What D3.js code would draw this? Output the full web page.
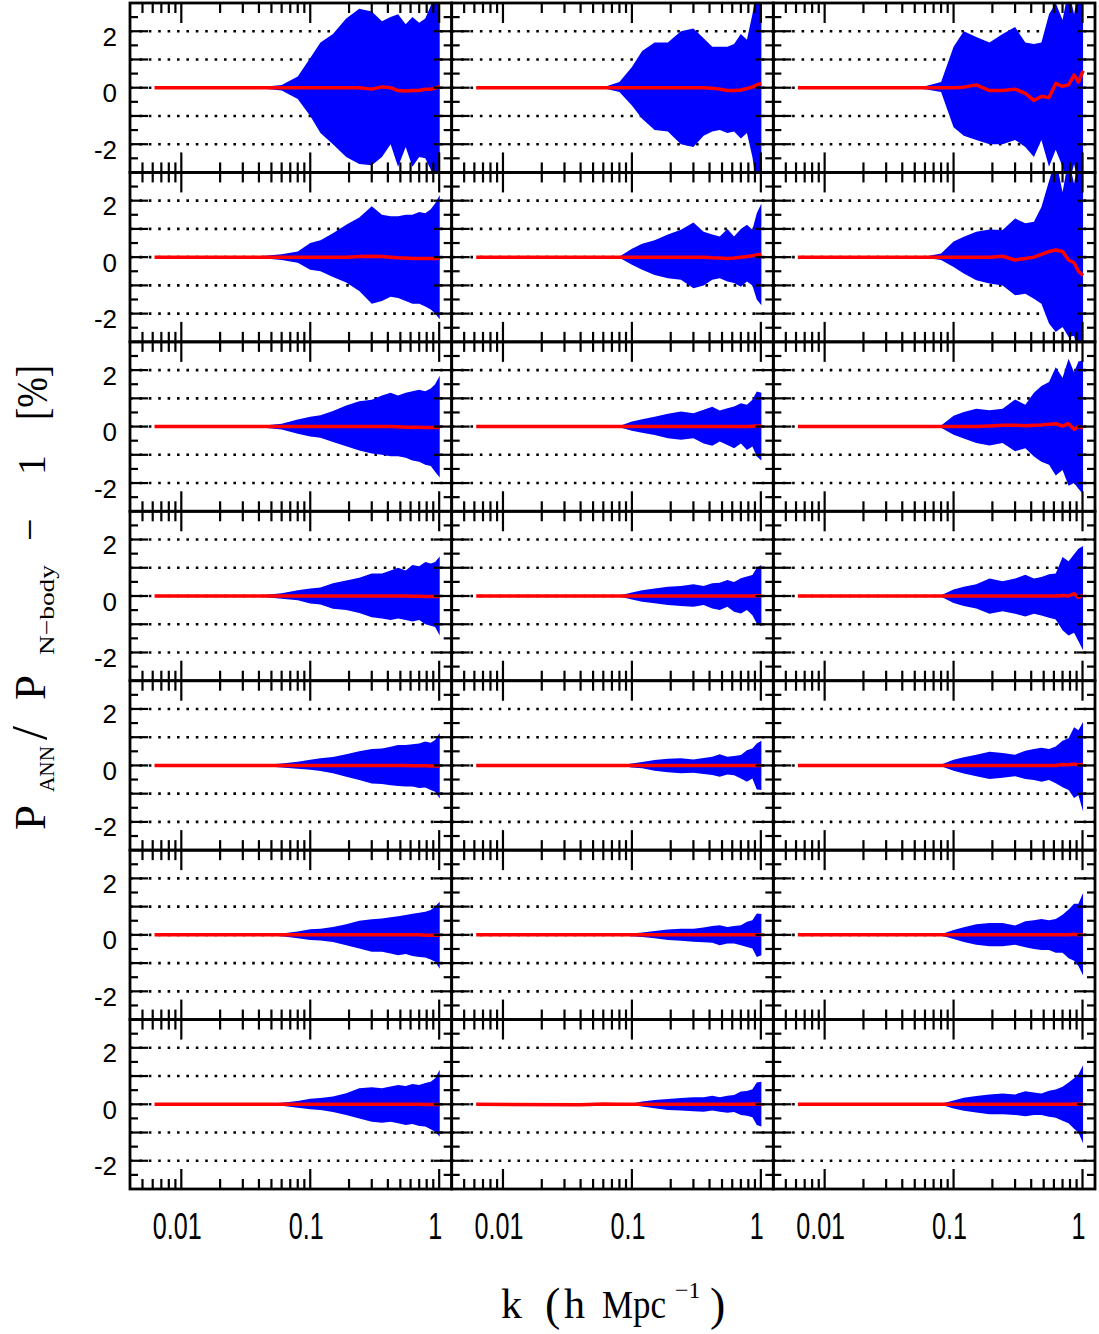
<!DOCTYPE html>
<html><head><meta charset="utf-8">
<script src="https://cdn.jsdelivr.net/npm/d3@7"></script>
<style>body{margin:0;background:#fff}</style>
</head><body><div id="chart"></div>
<script>
// k grid (h/Mpc) shared by every panel
const K = [0.0062, 0.04, 0.06, 0.08, 0.1, 0.12, 0.15, 0.19, 0.24, 0.3, 0.36, 0.42, 0.48, 0.55, 0.62, 0.7, 0.78, 0.86, 0.93, 1.01];
const yTickLabels = [-2, 0, 2];
const xTickLabels = [0.01, 0.1, 1];

// band top (up), band bottom (dn), mean (mid); name = row, column
const up11 = [0, 0.02, 0.1, 0.4, 1.05, 1.6, 1.9, 2.45, 2.8, 2.7, 2.35, 2.5, 2.6, 2.25, 2.5, 2.3, 2.45, 2.9, 3.5, 3.5];
const dn11 = [0, -0.02, -0.1, -0.4, -1.0, -1.6, -2.0, -2.45, -2.7, -2.75, -2.45, -2.0, -2.8, -2.1, -2.8, -2.45, -2.5, -2.9, -3.5, -3.5];
const mid11 = [0, 0, 0, 0, 0, 0, 0, 0, 0, -0.05, 0.03, 0, -0.1, -0.12, -0.1, -0.1, -0.05, -0.05, -0.02, 0.05];
const up12 = [0, 0, 0.02, 0.2, 0.73, 1.3, 1.6, 1.6, 2.0, 2.1, 1.75, 1.45, 1.45, 1.45, 1.55, 1.9, 1.7, 2.6, 3.5, 3.5];
const dn12 = [0, 0, -0.02, -0.15, -0.63, -1.1, -1.5, -1.55, -2.0, -2.1, -1.7, -1.55, -1.5, -1.6, -1.55, -1.8, -1.6, -2.45, -3.5, -3.5];
const mid12 = [0, 0, 0, 0, 0, 0, 0, 0, 0, 0, 0, -0.02, -0.05, -0.1, -0.1, -0.08, -0.03, 0.02, 0.1, 0.15];
const up13 = [0, 0, 0.05, 0.2, 1.45, 2.0, 1.8, 1.6, 1.9, 2.15, 1.6, 1.55, 1.6, 2.6, 3.0, 2.4, 3.5, 2.6, 3.5, 3.5];
const dn13 = [0, 0, -0.05, -0.15, -1.4, -1.7, -1.85, -2.0, -2.0, -1.85, -2.1, -2.45, -1.85, -2.8, -2.2, -2.8, -3.5, -2.7, -3.5, -3.5];
const mid13 = [0, 0, 0, 0, 0, 0.02, 0.1, -0.1, -0.1, -0.05, -0.2, -0.45, -0.3, -0.35, 0.15, 0.05, 0.1, 0.45, 0.2, 0.6];

const up21 = [0, 0.03, 0.1, 0.2, 0.5, 0.6, 0.85, 1.15, 1.4, 1.8, 1.5, 1.45, 1.45, 1.5, 1.5, 1.6, 1.55, 1.7, 1.9, 2.2];
const dn21 = [0, -0.03, -0.1, -0.2, -0.45, -0.5, -0.7, -0.9, -1.2, -1.65, -1.55, -1.4, -1.45, -1.55, -1.65, -1.65, -1.75, -1.85, -2.0, -2.2];
const mid21 = [0, 0, 0, 0, 0, 0, 0, 0, 0.02, 0.03, 0.02, 0, -0.02, -0.03, -0.05, -0.05, -0.05, -0.05, -0.05, -0.05];
const up22 = [0, 0, 0, 0.02, 0.3, 0.47, 0.6, 0.8, 0.97, 1.23, 0.9, 0.8, 0.73, 1.0, 0.73, 1.0, 1.15, 0.97, 1.55, 1.9];
const dn22 = [0, 0, 0, -0.02, -0.27, -0.45, -0.63, -0.75, -0.8, -1.1, -1.0, -0.8, -0.75, -0.86, -0.92, -1.05, -0.86, -1.0, -1.5, -1.7];
const mid22 = [0, 0, 0, 0, 0, 0, 0, 0, 0, 0, 0, -0.02, -0.03, -0.05, -0.03, 0, 0.02, 0.05, 0.08, 0.1];
const up23 = [0, 0, 0.02, 0.13, 0.55, 0.72, 0.9, 0.98, 0.96, 1.37, 1.2, 1.25, 1.78, 2.7, 3.5, 2.3, 3.5, 2.6, 3.5, 3.5];
const dn23 = [0, 0, -0.02, -0.1, -0.35, -0.58, -0.82, -0.93, -1.0, -1.35, -1.3, -1.47, -1.65, -2.35, -2.65, -2.47, -2.83, -2.78, -3.5, -3.5];
const mid23 = [0, 0, 0, 0, 0, 0, 0, 0, 0.03, -0.1, -0.05, 0, 0.1, 0.2, 0.25, 0.2, -0.1, -0.2, -0.5, -0.65];

const up31 = [0, 0.02, 0.1, 0.25, 0.35, 0.4, 0.55, 0.75, 0.9, 0.95, 1.1, 1.2, 1.1, 1.2, 1.25, 1.3, 1.25, 1.35, 1.5, 1.8];
const dn31 = [0, -0.02, -0.1, -0.25, -0.35, -0.4, -0.55, -0.7, -0.85, -0.95, -1.0, -1.05, -1.05, -1.1, -1.2, -1.25, -1.35, -1.4, -1.6, -1.8];
const mid31 = [0, 0, 0, 0, 0, 0, 0, 0, 0, 0, 0, 0, -0.01, -0.02, -0.02, -0.02, -0.03, -0.03, -0.03, -0.03];
const up32 = [0, 0, 0, 0.02, 0.18, 0.26, 0.35, 0.45, 0.53, 0.47, 0.6, 0.7, 0.57, 0.65, 0.71, 0.83, 0.77, 0.95, 1.24, 1.2];
const dn32 = [0, 0, 0, -0.02, -0.15, -0.22, -0.3, -0.41, -0.47, -0.41, -0.6, -0.68, -0.53, -0.65, -0.77, -0.6, -0.83, -0.71, -1.06, -1.2];
const mid32 = [0, 0, 0, 0, 0, 0, 0, 0, 0, 0, 0, 0, 0, 0, 0, 0, 0, 0.01, 0.02, 0.02];
const up33 = [0, 0, 0, 0.04, 0.38, 0.52, 0.63, 0.58, 0.63, 0.96, 0.77, 1.2, 1.44, 1.58, 2.1, 1.73, 2.4, 1.92, 2.3, 2.35];
const dn33 = [0, 0, 0, -0.04, -0.29, -0.42, -0.58, -0.67, -0.58, -0.87, -0.77, -1.06, -1.25, -1.35, -1.73, -1.54, -2.1, -2.0, -2.2, -2.4];
const mid33 = [0, 0, 0, 0, 0, 0, 0, 0.02, 0.05, 0.05, 0.03, 0.05, 0.06, 0.08, 0.1, 0.02, 0.1, -0.1, 0, -0.05];

const up41 = [0, 0.02, 0.1, 0.2, 0.27, 0.3, 0.45, 0.55, 0.65, 0.8, 0.8, 0.9, 1.0, 0.9, 1.1, 1.05, 1.2, 1.15, 1.2, 1.4];
const dn41 = [0, -0.02, -0.1, -0.15, -0.27, -0.3, -0.45, -0.5, -0.6, -0.75, -0.8, -0.85, -0.8, -0.85, -0.9, -0.85, -1.0, -1.05, -1.1, -1.4];
const mid41 = [0, 0, 0, 0, 0, 0, 0, 0, 0, 0, 0, 0, 0, 0, -0.01, -0.01, -0.02, -0.02, -0.02, -0.02];
const up42 = [0, 0, 0, 0.02, 0.12, 0.2, 0.27, 0.33, 0.35, 0.42, 0.35, 0.45, 0.47, 0.57, 0.5, 0.63, 0.69, 0.74, 1.0, 1.1];
const dn42 = [0, 0, 0, -0.02, -0.12, -0.2, -0.26, -0.32, -0.35, -0.38, -0.32, -0.44, -0.5, -0.38, -0.56, -0.62, -0.5, -0.68, -0.97, -1.08];
const mid42 = [0, 0, 0, 0, 0, 0, 0, 0, 0, 0, 0, 0, 0, 0, 0, 0, 0, 0, 0.01, 0.01];
const up43 = [0, 0, 0, 0.03, 0.23, 0.33, 0.42, 0.62, 0.52, 0.62, 0.75, 0.62, 0.67, 0.77, 0.8, 1.38, 1.23, 1.48, 1.67, 1.77];
const dn43 = [0, 0, 0, -0.03, -0.25, -0.35, -0.44, -0.63, -0.54, -0.63, -0.73, -0.63, -0.69, -0.77, -0.83, -1.21, -1.4, -1.3, -1.6, -1.92];
const mid43 = [0, 0, 0, 0, 0, 0, 0, 0, 0, 0, 0, 0, 0, 0, 0, 0.02, 0, 0.08, -0.05, 0.03];

const up51 = [0, 0.01, 0.07, 0.13, 0.2, 0.25, 0.3, 0.4, 0.5, 0.58, 0.6, 0.66, 0.72, 0.72, 0.75, 0.78, 0.85, 0.8, 0.9, 1.15];
const dn51 = [0, -0.01, -0.07, -0.12, -0.15, -0.2, -0.28, -0.4, -0.52, -0.64, -0.66, -0.7, -0.73, -0.75, -0.75, -0.8, -0.78, -0.87, -0.93, -1.17];
const mid51 = [0, 0, 0, 0, 0, 0, 0, 0, 0, 0, 0, 0, 0, 0, -0.01, -0.01, -0.01, -0.02, -0.02, -0.02];
const up52 = [0, 0, 0, 0.01, 0.07, 0.12, 0.19, 0.24, 0.25, 0.21, 0.26, 0.31, 0.4, 0.31, 0.33, 0.37, 0.54, 0.6, 0.78, 0.87];
const dn52 = [0, 0, 0, -0.01, -0.07, -0.1, -0.19, -0.24, -0.28, -0.26, -0.3, -0.34, -0.4, -0.32, -0.35, -0.46, -0.58, -0.46, -0.85, -0.87];
const mid52 = [0, 0, 0, 0, 0, 0, 0, 0, 0, 0, 0, 0, 0, 0, 0, 0, 0, 0, 0, 0];
const up53 = [0, 0, 0, 0.03, 0.2, 0.29, 0.38, 0.48, 0.44, 0.38, 0.52, 0.58, 0.63, 0.58, 0.67, 0.87, 0.96, 1.35, 1.25, 1.54];
const dn53 = [0, 0, 0, -0.03, -0.19, -0.29, -0.38, -0.48, -0.44, -0.38, -0.48, -0.52, -0.58, -0.52, -0.63, -0.77, -0.87, -1.15, -1.06, -1.63];
const mid53 = [0, 0, 0, 0, 0, 0, 0, 0, 0, 0, 0, 0, 0, 0, 0, 0.03, 0.02, 0.05, 0.02, 0.03];

const up61 = [0, 0.01, 0.05, 0.12, 0.2, 0.22, 0.28, 0.38, 0.5, 0.55, 0.58, 0.62, 0.66, 0.7, 0.75, 0.78, 0.82, 0.88, 1.0, 1.17];
const dn61 = [0, -0.01, -0.05, -0.12, -0.18, -0.2, -0.25, -0.37, -0.48, -0.6, -0.6, -0.66, -0.72, -0.68, -0.75, -0.78, -0.8, -0.87, -0.95, -1.2];
const mid61 = [0, 0, 0, 0, 0, 0, 0, 0, 0, 0, 0, 0, 0, 0, 0, 0, -0.01, -0.01, -0.01, -0.01];
const up62 = [0, 0, 0, 0.01, 0.05, 0.08, 0.14, 0.19, 0.22, 0.22, 0.26, 0.31, 0.34, 0.28, 0.31, 0.34, 0.46, 0.52, 0.76, 0.74];
const dn62 = [0, 0, 0, -0.01, -0.05, -0.08, -0.12, -0.18, -0.21, -0.24, -0.26, -0.28, -0.37, -0.31, -0.31, -0.37, -0.43, -0.48, -0.78, -0.72];
const mid62 = [0, 0, 0, 0, 0, 0, 0, 0, 0, 0, 0, 0, 0, 0, 0, 0, 0, 0, 0, 0];
const up63 = [0, 0, 0, 0.02, 0.17, 0.27, 0.38, 0.42, 0.42, 0.33, 0.48, 0.52, 0.56, 0.52, 0.56, 0.71, 0.9, 1.1, 1.1, 1.48];
const dn63 = [0, 0, 0, -0.02, -0.15, -0.25, -0.35, -0.4, -0.4, -0.35, -0.44, -0.5, -0.54, -0.54, -0.63, -0.63, -0.83, -0.92, -1.1, -1.44];
const mid63 = [0, 0, 0, 0, 0, 0, 0, 0, 0, 0, 0, 0, 0, 0, 0, 0, 0, 0.02, 0, 0.01];

const up71 = [0, 0.01, 0.05, 0.12, 0.2, 0.22, 0.28, 0.39, 0.57, 0.6, 0.57, 0.63, 0.68, 0.65, 0.72, 0.68, 0.75, 0.8, 0.92, 1.22];
const dn71 = [0, -0.01, -0.05, -0.12, -0.18, -0.2, -0.27, -0.38, -0.5, -0.62, -0.65, -0.62, -0.67, -0.73, -0.7, -0.77, -0.79, -0.88, -0.97, -1.15];
const mid71 = [0, 0, 0, 0, 0, 0, 0, 0, 0, 0, 0, 0, 0, 0, 0, 0, -0.01, -0.01, -0.01, -0.01];
const up72 = [0, 0, 0, 0.01, 0.03, 0.1, 0.15, 0.19, 0.22, 0.25, 0.25, 0.3, 0.25, 0.3, 0.33, 0.45, 0.47, 0.53, 0.77, 0.8];
const dn72 = [0, 0, 0, -0.01, -0.03, -0.08, -0.14, -0.2, -0.22, -0.25, -0.26, -0.22, -0.26, -0.3, -0.27, -0.38, -0.41, -0.46, -0.73, -0.79];
const mid72 = [0, -0.02, 0.01, 0, 0, 0, 0, 0, 0, 0, 0, 0, 0, 0, 0, 0, 0, 0.01, 0, 0];
const up73 = [0, 0, 0, 0.02, 0.13, 0.23, 0.29, 0.35, 0.38, 0.35, 0.46, 0.42, 0.38, 0.48, 0.52, 0.62, 0.77, 0.92, 1.06, 1.38];
const dn73 = [0, 0, 0, -0.02, -0.15, -0.23, -0.29, -0.35, -0.35, -0.38, -0.42, -0.38, -0.38, -0.44, -0.48, -0.58, -0.67, -0.87, -1.0, -1.38];
const mid73 = [0, 0, 0, 0, 0, 0, 0, 0, 0, 0, 0, 0, 0, 0, 0, 0, 0, 0.01, 0, 0.01];

const panels = [
  [[up11, dn11, mid11], [up12, dn12, mid12], [up13, dn13, mid13]],
  [[up21, dn21, mid21], [up22, dn22, mid22], [up23, dn23, mid23]],
  [[up31, dn31, mid31], [up32, dn32, mid32], [up33, dn33, mid33]],
  [[up41, dn41, mid41], [up42, dn42, mid42], [up43, dn43, mid43]],
  [[up51, dn51, mid51], [up52, dn52, mid52], [up53, dn53, mid53]],
  [[up61, dn61, mid61], [up62, dn62, mid62], [up63, dn63, mid63]],
  [[up71, dn71, mid71], [up72, dn72, mid72], [up73, dn73, mid73]]
];

function drawGrid(id) {
  var width = 1099, height = 1334;
  var gLeft = 130, gRight = 1095, gTop = 3, gBottom = 1189;
  var nc = 3, nr = 7;
  var pw = (gRight - gLeft) / nc, ph = (gBottom - gTop) / nr;

  var svg = d3.select(id).append("svg")
    .attr("width", width).attr("height", height);
  var defs = svg.append("defs");

  for (var r = 0; r < nr; r++) {
    for (var c = 0; c < nc; c++) {
      var x0 = gLeft + c * pw, y0 = gTop + r * ph;
      var xScale = d3.scaleLog().domain([0.004, 1.25]).range([x0, x0 + pw]);
      var yScale = d3.scaleLinear().domain([-3, 3]).range([y0 + ph, y0]);
      var g = svg.append("g");
      var cid = "clip" + r + c;
      defs.append("clipPath").attr("id", cid).append("rect")
        .attr("x", x0).attr("y", y0).attr("width", pw).attr("height", ph);

      // dotted grid
      g.selectAll(".grid").data([-2, -1, 0, 1, 2]).enter().append("line")
        .attr("x1", x0).attr("x2", x0 + pw)
        .attr("y1", function(d){ return yScale(d); })
        .attr("y2", function(d){ return yScale(d); })
        .style("stroke", "black").style("stroke-width", 2.6)
        .style("stroke-dasharray", "2.6,6.8");

      var p = panels[r][c];
      var pts = K.map(function(k, i){ return {k: k, up: p[0][i], dn: p[1][i], mid: p[2][i]}; });

      g.append("path").datum(pts)
        .attr("clip-path", "url(#" + cid + ")")
        .attr("fill", "#0000ff")
        .attr("d", d3.area()
          .x(function(d){ return xScale(d.k); })
          .y0(function(d){ return yScale(d.dn); })
          .y1(function(d){ return yScale(d.up); }));

      g.append("path").datum(pts)
        .attr("clip-path", "url(#" + cid + ")")
        .attr("fill", "none").attr("stroke", "#ff0000")
        .attr("stroke-width", 3.5).attr("stroke-linejoin", "round")
        .attr("d", d3.line()
          .x(function(d){ return xScale(d.k); })
          .y(function(d){ return yScale(d.mid); }));

      // x ticks, top and bottom, inward
      var xt = xScale.ticks().filter(function(t){ return t > 0.0041; });
      xt.forEach(function(t){
        var major = Math.abs(Math.log10(t) - Math.round(Math.log10(t))) < 1e-6;
        var len = major ? 20 : 10;
        var xx = xScale(t);
        g.append("line").attr("x1", xx).attr("x2", xx).attr("y1", y0 + ph).attr("y2", y0 + ph - len)
          .style("stroke", "black").style("stroke-width", 2.2);
        g.append("line").attr("x1", xx).attr("x2", xx).attr("y1", y0).attr("y2", y0 + len)
          .style("stroke", "black").style("stroke-width", 2.2);
      });

      // y ticks, left and right, inward
      d3.range(-2.5, 2.51, 0.5).forEach(function(t){
        var major = Math.abs(t - Math.round(t)) < 1e-6;
        var len = major ? 18 : 8;
        var yy = yScale(t);
        g.append("line").attr("x1", x0).attr("x2", x0 + len).attr("y1", yy).attr("y2", yy)
          .style("stroke", "black").style("stroke-width", 2.2);
        g.append("line").attr("x1", x0 + pw).attr("x2", x0 + pw - len).attr("y1", yy).attr("y2", yy)
          .style("stroke", "black").style("stroke-width", 2.2);
      });

      g.append("rect").attr("x", x0).attr("y", y0).attr("width", pw).attr("height", ph)
        .attr("fill", "none").attr("stroke", "black").attr("stroke-width", 2.8);

      if (c == 0) {
        g.selectAll(".ylab").data(yTickLabels).enter().append("text")
          .attr("x", 117).attr("y", function(d){ return yScale(d) + 5.5; })
          .attr("dominant-baseline", "central")
          .style("text-anchor", "end")
          .style("font-family", "Liberation Sans, Arial, sans-serif")
          .style("font-size", "26px")
          .text(function(d){ return d; });
      }
      if (r == nr - 1) {
        g.selectAll(".xlab").data(xTickLabels).enter().append("text")
          .attr("transform", function(d){ return "translate(" + (xScale(d) - 4) + "," + 1239 + ") scale(0.68,1)"; })
          .style("text-anchor", "middle")
          .style("font-family", "Liberation Sans, Arial, sans-serif")
          .style("font-size", "37px")
          .text(function(d){ return d; });
      }
    }
  }

  // axis titles
  var serif = "Liberation Serif, Times New Roman, serif";
  function piece(parent, txt, x, y, len, size) {
    var t = parent.append("text").attr("x", x).attr("y", y)
      .style("font-family", serif).style("font-size", size + "px")
      .text(txt);
    if (len) t.attr("textLength", len).attr("lengthAdjust", "spacingAndGlyphs");
  }
  var bt = svg.append("g");
  piece(bt, "k", 501, 1318, 0, 42);
  piece(bt, "(", 545, 1320, 0, 46);
  piece(bt, "h", 564, 1318, 0, 42);
  piece(bt, "Mpc", 602, 1318, 64, 40);
  piece(bt, "\u22121", 675, 1298, 0, 24);
  piece(bt, ")", 710, 1320, 0, 46);

  var lt = svg.append("g").attr("transform", "translate(45,0) rotate(-90)");
  piece(lt, "P", -830, 0, 0, 45);
  piece(lt, "ANN", -792, 9, 46, 22);
  piece(lt, "/", -740, 1, 0, 50);
  piece(lt, "P", -700, 0, 0, 45);
  piece(lt, "N\u2212body", -655, 9, 90, 22);
  piece(lt, "\u2212", -541, -2, 0, 40);
  piece(lt, "1", -475, 0, 0, 40);
  piece(lt, "[%]", -420, 2, 55, 44);
}

drawGrid("#chart");
</script>
</body></html>
